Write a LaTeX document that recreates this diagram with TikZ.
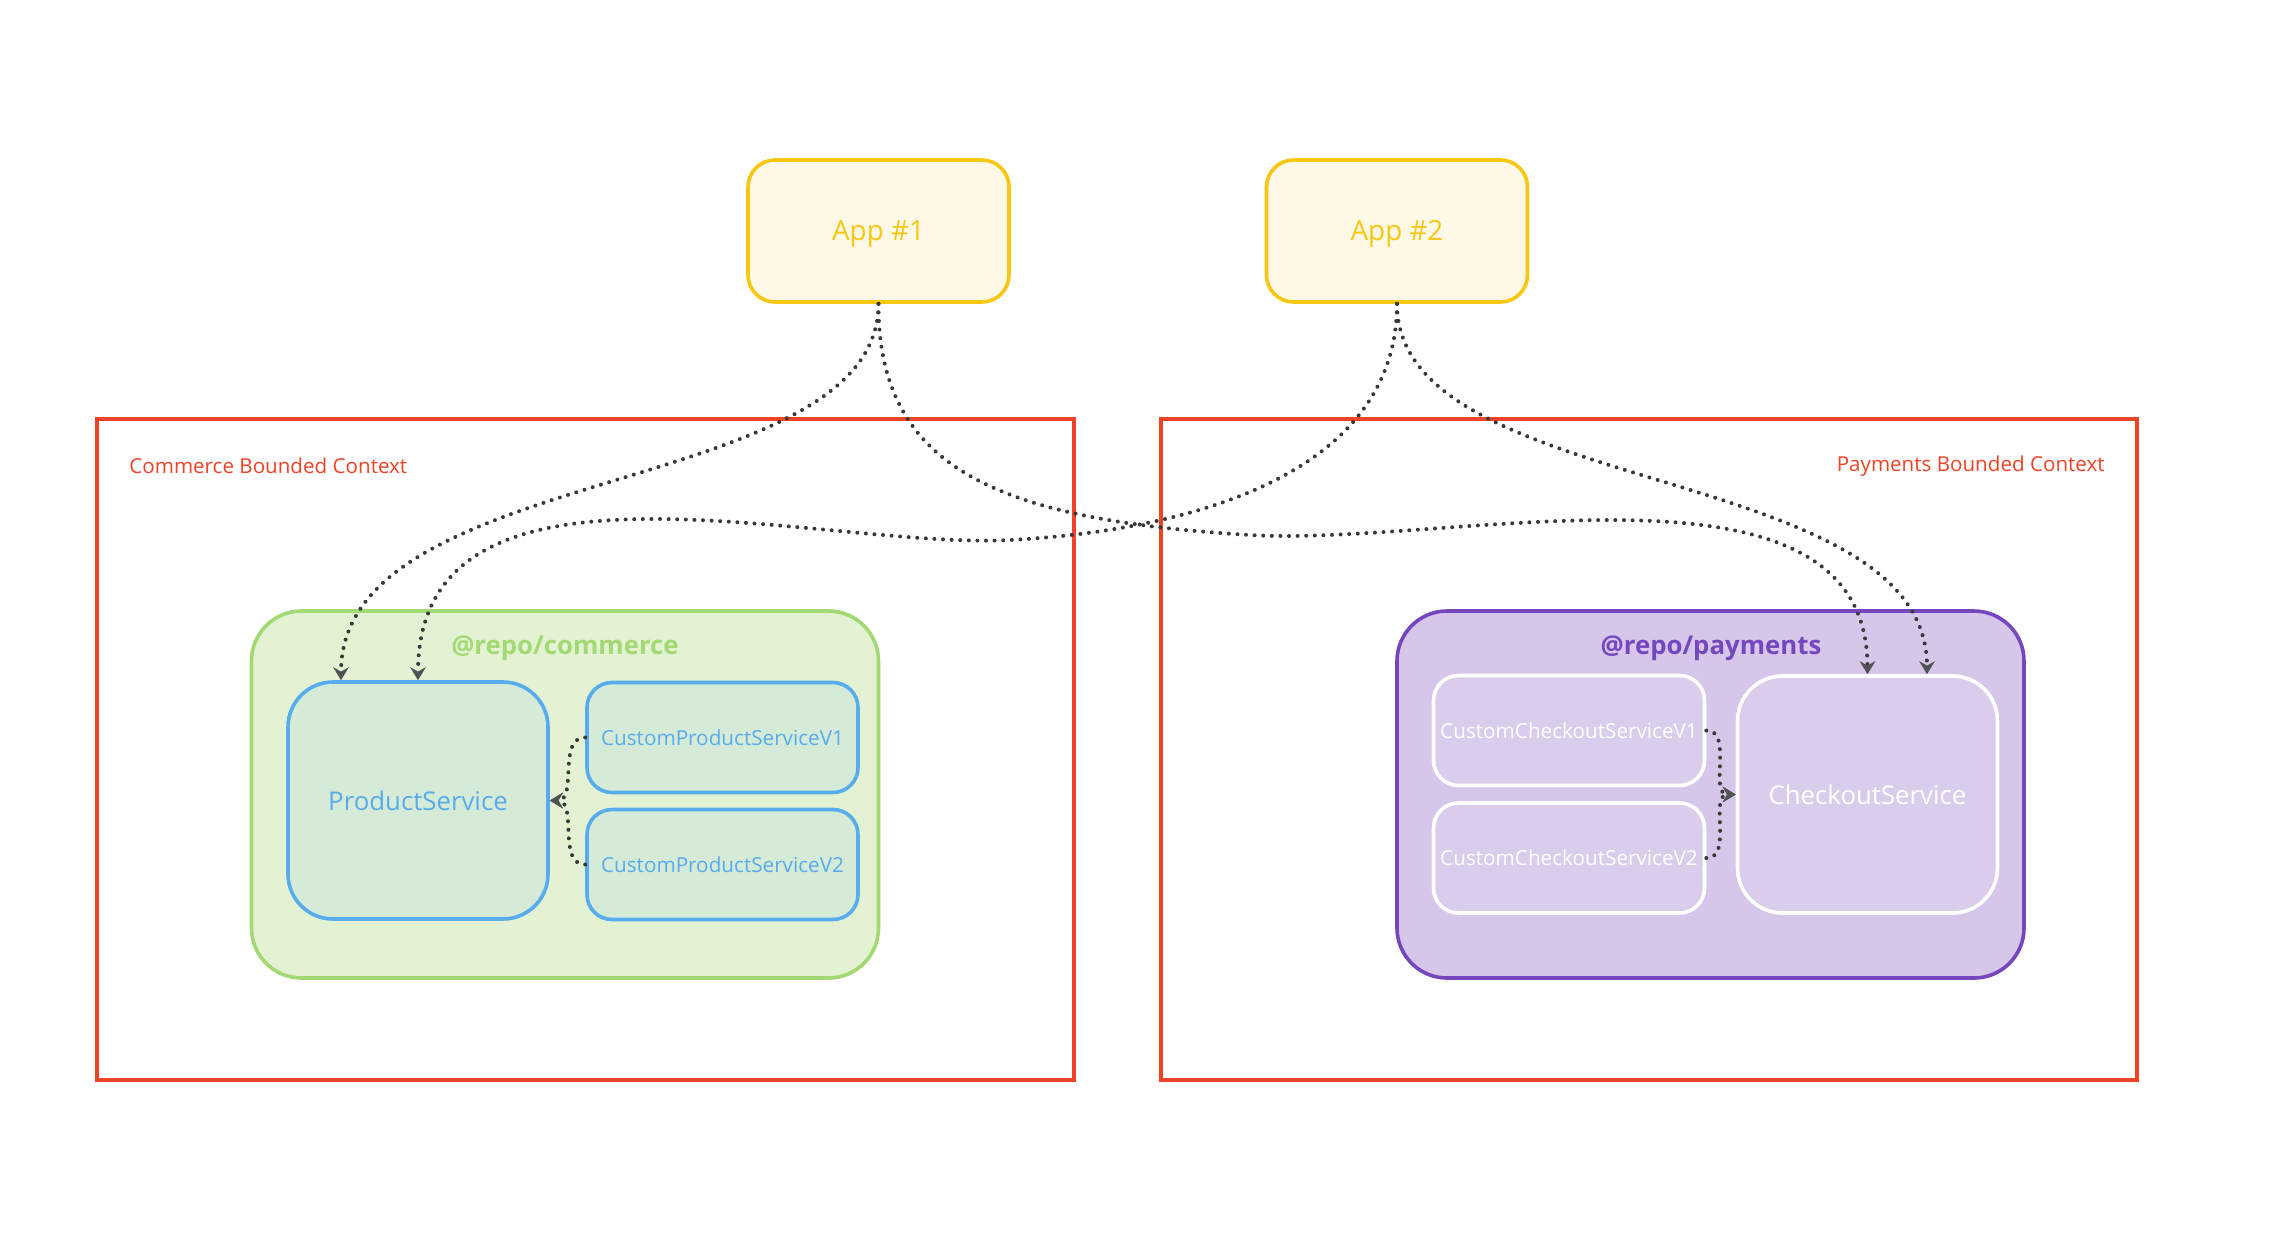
\documentclass[tikz,border=0pt]{standalone}
\usepackage{fontspec}
\setmainfont{Open Sans}
\usetikzlibrary{arrows.meta}
\definecolor{ctxred}{HTML}{EE4326}
\definecolor{appyellow}{HTML}{F8C712}
\definecolor{appfill}{HTML}{FEF8E7}
\definecolor{greenline}{HTML}{A3D972}
\definecolor{greenfill}{HTML}{E4F2D4}
\definecolor{blueline}{HTML}{57ACEE}
\definecolor{bluefill}{HTML}{D5EBD7}
\definecolor{purpleline}{HTML}{7547BF}
\definecolor{purplefill}{HTML}{D6C6EA}
\definecolor{purpleinner}{HTML}{DACDEC}
\definecolor{dotgray}{HTML}{383838}
\definecolor{tipgray}{HTML}{525252}
\begin{document}
\begin{tikzpicture}[x=0.5pt,y=-0.5pt,
        ctxframe/.style={draw=ctxred,line width=1.8pt},
        ctxlabel/.style={text=ctxred,font=\fontsize{10.3}{12}\selectfont,inner sep=0pt},
        appbox/.style={draw=appyellow,fill=appfill,text=appyellow,line width=1.8pt,rounded corners=13.5pt,
            minimum width=130.5pt,minimum height=71pt,inner sep=0pt,text height=9.9pt,text depth=0pt,
            font=\fontsize{13.9}{16}\selectfont},
        pkgbox/.style={line width=1.8pt,rounded corners=25pt,minimum width=313.5pt,minimum height=183.5pt,inner sep=0pt},
        pkglabel/.style={font=\bfseries\fontsize{12.9}{15}\selectfont,inner sep=0pt},
        svcbox/.style={line width=1.8pt,rounded corners=22.5pt,minimum width=130pt,minimum height=118.5pt,
            inner sep=0pt,font=\fontsize{12.9}{15}\selectfont},
        custbox/.style={line width=1.8pt,rounded corners=12.5pt,minimum width=135.5pt,minimum height=55pt,
            inner sep=0pt,font=\fontsize{10.35}{12}\selectfont},
        dep/.style={draw=dotgray,line width=2pt,line cap=round,dash pattern=on 0pt off 4.3pt,
            -{Stealth[length=6.5pt,width=7.8pt,inset=2.2pt,color=tipgray]}}]
    \path[fill=white] (0,0) rectangle (2276,1238);
    \useasboundingbox (0,0) rectangle (2276,1238);
    %% bounded contexts
    \draw[ctxframe] (97,419) rectangle (1074,1080);
    \draw[ctxframe] (1161,419) rectangle (2137,1080);
    \node[ctxlabel,anchor=west] (cbc) at (129,466) {Commerce Bounded Context};
    \node[ctxlabel,anchor=east] (pbc) at (2105,466) {Payments Bounded Context};
    %% apps
    \node[appbox] (app1) at (878.5,231) {App \#1};
    \node[appbox] (app2) at (1397,231) {App \#2};
    %% commerce package
    \node[pkgbox,draw=greenline,fill=greenfill] (commerce) at (565,794.5) {};
    \node[pkglabel,text=greenline] (commercelbl) at (565,648) {@repo/commerce};
    \node[svcbox,draw=blueline,fill=bluefill,text=blueline] (product) at (418,800.5) {ProductService};
    \node[custbox,draw=blueline,fill=bluefill,text=blueline] (cpv1) at (722.5,737.5) {CustomProductServiceV1};
    \node[custbox,draw=blueline,fill=bluefill,text=blueline] (cpv2) at (722.5,864.5) {CustomProductServiceV2};
    %% payments package
    \node[pkgbox,draw=purpleline,fill=purplefill] (payments) at (1710.5,794.5) {};
    \node[pkglabel,text=purpleline] (paymentslbl) at (1711,648) {@repo/payments};
    \node[svcbox,draw=white,fill=purpleinner,text=white] (checkout) at (1867.5,794.5) {CheckoutService};
    \node[custbox,draw=white,fill=purpleinner,text=white] (ccv1) at (1569,730.5) {CustomCheckoutServiceV1};
    \node[custbox,draw=white,fill=purpleinner,text=white] (ccv2) at (1569,858) {CustomCheckoutServiceV2};
    %% apps -> services
    \draw[dep] (app1.south) .. controls (878,500) and (341,460) .. ([xshift=-38.5pt]product.north);
    \draw[dep] (app2.south) .. controls (1397,470) and (1200,530) .. (1010,540)
        .. controls (820,550) and (418,430) .. (product.north);
    \draw[dep] (app1.south) .. controls (878,470) and (1000,520) .. (1250,535)
        .. controls (1450,547) and (1867,440) .. (checkout.north);
    \draw[dep] (app2.south) .. controls (1397,500) and (1927,460) .. ([xshift=29.75pt]checkout.north);
    %% custom services
    \draw[dep] (cpv1.west) to[out=180,in=0] (product.east);
    \draw[dep] (cpv2.west) to[out=180,in=0] (product.east);
    \draw[dep] (ccv1.east) to[out=0,in=180] (checkout.west);
    \draw[dep] (ccv2.east) to[out=0,in=180] (checkout.west);
\end{tikzpicture}
\end{document}
